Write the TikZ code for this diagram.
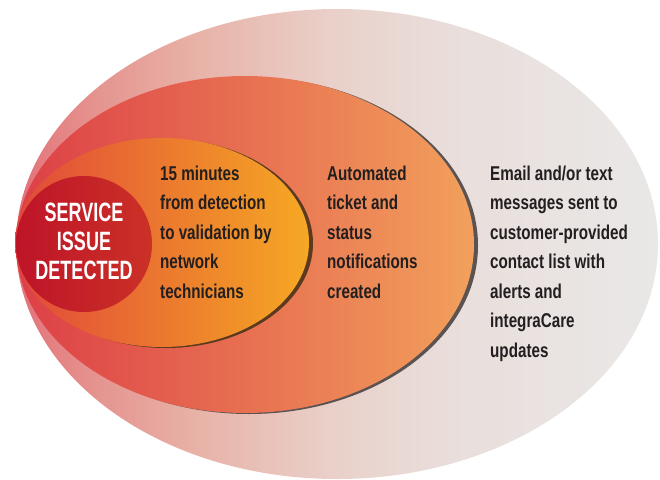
\documentclass[tikz,border=0pt]{standalone}
\usepackage{fontspec}
\usepackage{tikz}
\usetikzlibrary{shapes.geometric}
\newfontfamily\condfont[FakeStretch=0.76]{Liberation Sans}
\newfontfamily\titlefont[FakeStretch=0.68]{Liberation Sans}
\definecolor{outerA}{HTML}{E2707A}
\definecolor{outerB}{HTML}{E47C80}
\definecolor{outerC}{HTML}{E59590}
\definecolor{outerD}{HTML}{E8B3A8}
\definecolor{outerE}{HTML}{E9D0C9}
\definecolor{outerF}{HTML}{E9DEDB}
\definecolor{outerG}{HTML}{E9E8E7}
\definecolor{midL}{HTML}{DD3F47}
\definecolor{midM}{HTML}{E97D4E}
\definecolor{midR}{HTML}{F2A05C}
\definecolor{innL}{HTML}{E0483A}
\definecolor{innM}{HTML}{EE8A2E}
\definecolor{innR}{HTML}{F6A824}
\definecolor{dotL}{HTML}{BE1428}
\definecolor{dotR}{HTML}{CB3127}
\definecolor{rimgray}{HTML}{5A5352}
\definecolor{rimbrown}{HTML}{5B3A1E}
\definecolor{inktext}{HTML}{231F20}
\pgfdeclarehorizontalshading{outershade}{100bp}{color(0bp)=(outerA); color(25bp)=(outerA);
  color(26.9bp)=(outerB); color(31.5bp)=(outerC); color(39.3bp)=(outerD);
  color(49.5bp)=(outerE); color(58.8bp)=(outerF); color(75bp)=(outerG); color(100bp)=(outerG)}

\begin{document}
\begin{tikzpicture}[x=1pt, y=-1pt,
  ringnode/.style={ellipse, inner sep=0pt, draw=none},
  labelnode/.style={anchor=north west, inner sep=0pt, align=left, text=inktext, font=\condfont\bfseries\fontsize{20}{29.5}\selectfont}]
\useasboundingbox (0,0) rectangle (660,479);
% rings, from outside in
\node (alert) [ringnode, minimum width=642pt, minimum height=470pt, shading=outershade] at (337,244) {};
\node (ticketrim) [ringnode, minimum width=458pt, minimum height=337pt, fill=rimgray] at (249,245.5) {};
\node (ticket) [ringnode, minimum width=458pt, minimum height=337pt, left color=midL, middle color=midM, right color=midR] at (245,244.5) {};
\node (techrim) [ringnode, minimum width=294pt, minimum height=209pt, fill=rimbrown] at (166,243.5) {};
\node (tech) [ringnode, minimum width=294pt, minimum height=209pt, left color=innL, middle color=innM, right color=innR] at (162,242.5) {};
\node (issue) [circle, inner sep=0pt, minimum size=136pt, left color=dotL, right color=dotR] at (84,244) {};
% texts
\node (issuetext) [inner sep=0pt, align=center, text=white, font=\titlefont\bfseries\fontsize{26.5}{29}\selectfont] at (84,241.5) {SERVICE\\ISSUE\\DETECTED};
\node (techtext) [labelnode] at (160,165.5) {15 minutes\\from detection\\to validation by\\network\\technicians};
\node (tickettext) [labelnode] at (327,165.5) {Automated\\ticket and\\status\\notifications\\created};
\node (alerttext) [labelnode] at (490,165.5) {Email and/or text\\messages sent to\\customer-provided\\contact list with\\alerts and\\integraCare\\updates};

\end{tikzpicture}
\end{document}
